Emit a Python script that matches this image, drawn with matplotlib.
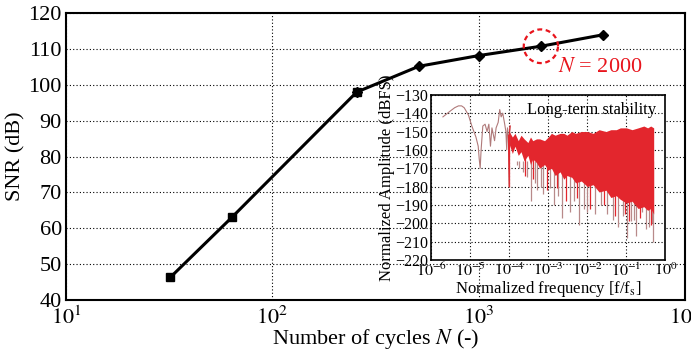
import numpy as np
import matplotlib
matplotlib.use("Agg")
import matplotlib.pyplot as plt

plt.rcParams["font.family"] = ["Liberation Serif", "DejaVu Serif"]
plt.rcParams["mathtext.fontset"] = "stix"

# ── main curve: SNR vs number of cycles ──────────────────────────────────────
n_sq    = [32, 64, 256]
snr_sq  = [46.3, 63.2, 98.0]
n_dm    = [256, 512, 1000, 2000, 4000]
snr_dm  = [98.0, 105.2, 108.2, 110.8, 114.0]
hl_n    = 2000
hl_snr  = 110.8

# ── inset: spectrum ──────────────────────────────────────────────────────────
lf_f  = [2e-6, 3e-6, 4e-6, 5e-6, 6e-6, 7e-6, 9e-6, 1.1e-5, 1.4e-5, 1.6e-5, 1.7e-5,
         1.8e-5, 1.9e-5, 2.1e-5, 2.4e-5, 2.7e-5, 3.0e-5, 3.3e-5, 3.6e-5, 4.2e-5,
         4.6e-5, 5.2e-5, 5.7e-5, 6.2e-5, 6.8e-5, 7.5e-5, 8.2e-5, 8.6e-5, 9e-5,
         9.5e-5, 1.0e-4, 1.02e-4, 1.05e-4]
lf_db = [-142, -139, -137, -136, -136, -137, -141, -147, -153, -158, -165,
         -170, -160, -147, -146, -150, -146, -158, -148, -155,
         -148, -145, -138, -142, -140, -145, -150, -160, -148,
         -152, -180, -150, -147]

env_f  = [1.0e-4, 1.2e-4, 1.4e-4, 1.7e-4, 2.0e-4, 2.4e-4, 3e-4, 3.5e-4, 4e-4, 5e-4,
          6e-4, 8e-4, 1e-3, 1.2e-3, 1.5e-3, 2e-3, 2.5e-3, 3e-3, 4e-3, 5e-3, 7e-3,
          1e-2, 1.4e-2, 2e-2, 3e-2, 4e-2, 5.5e-2, 7e-2, 1e-1, 1.4e-1, 2e-1,
          2.8e-1, 3.5e-1, 4.2e-1, 5e-1]
env_hi = [-150, -153, -151, -155, -152, -154, -156, -153, -155, -154,
          -154, -155, -153, -151, -152, -151, -151, -152, -150, -151, -150,
          -150, -151, -149, -150, -149, -149, -148, -148, -149, -148,
          -147, -148, -147, -148]
env_lo = [-157, -162, -158, -163, -161, -166, -163, -168, -165, -167,
          -170, -168, -171, -170, -174, -172, -176, -174, -175, -178, -177,
          -180, -179, -183, -182, -186, -185, -187, -189, -188, -192,
          -191, -193, -192, -195]

spk_f  = [1.6e-4, 1.8e-4, 2.3e-4, 2.8e-4, 3.6e-4, 4.5e-4, 5e-4, 6.5e-4, 7.5e-4,
          1.1e-3, 1.4e-3, 1.8e-3, 2.3e-3, 3.5e-3, 4.5e-3, 6e-3, 8e-3, 1e-2,
          1.6e-2, 2.2e-2, 3.2e-2, 4.5e-2, 6e-2, 8e-2, 1.05e-1, 1.3e-1, 1.6e-1,
          1.75e-1, 2.5e-1, 3.2e-1, 3.7e-1, 4.5e-1, 4.8e-1]
spk_db = [-168, -170, -172, -175, -188, -178, -182, -180, -184,
          -181, -190, -185, -197, -194, -188, -201, -192, -194,
          -195, -190, -195, -198, -202, -196, -208, -199, -198,
          -207, -194, -203, -202, -200, -210]
rspk_f  = [1.0e-4, 2.6e-4, 4e-4, 9e-4, 1.7e-3, 2.9e-3, 5.5e-3, 1.2e-2, 2.6e-2,
           5e-2, 9e-2, 1.2e-1, 2.2e-1, 4.2e-1]
rspk_db = [-180, -174, -176, -182, -181, -188, -186, -192, -190,
           -196, -195, -199, -197, -201]

fig = plt.figure(figsize=(6.91, 3.54), dpi=100)
ax = fig.add_axes([0.0955, 0.1525, 0.896, 0.81])

ax.plot(n_dm, snr_dm, "-", color="black", lw=2.2, marker="D", ms=5, zorder=3)
ax.plot(n_sq, snr_sq, "-", color="black", lw=2.2, marker="s", ms=5.5, zorder=4)

# dashed circle round the highlighted point (log-x so drawn in decades)
t = np.linspace(0, 2 * np.pi, 200)
cx = np.log10(hl_n)
ax.plot(10 ** (cx + 0.083 * np.cos(t)), hl_snr + 4.7 * np.sin(t),
        color="#e8141c", lw=1.6, ls=(0, (2.2, 1.6)), zorder=5)
ax.text(10 ** (cx + 0.085), hl_snr - 5.8, r"$\mathit{N}$ = 2000", color="#e8141c",
        fontsize=16, ha="left", va="center")

ax.set_xscale("log")
ax.set_xlim(10, 1e4)
ax.set_ylim(40, 120)
ax.set_yticks(range(40, 121, 10))
ax.set_xticks([10, 100, 1000, 10000])
ax.set_xticklabels([r"$10^{1}$", r"$10^{2}$", r"$10^{3}$", r"$10^{4}$"])
ax.minorticks_off()
ax.tick_params(direction="in", length=0, labelsize=16, pad=3)
ax.tick_params(axis="x", pad=5)
ax.grid(True, color="black", ls=(0, (1, 2)), lw=0.8)
for s in ax.spines.values():
    s.set_linewidth(1.5)
ax.set_xlabel(r"Number of cycles $\mathit{N}$ (-)", fontsize=16, labelpad=-2)
ax.set_ylabel("SNR (dB)", fontsize=16, labelpad=2)

# ── inset ────────────────────────────────────────────────────────────────────
ins = fig.add_axes([0.624, 0.266, 0.339, 0.466])
ins.vlines(spk_f, -166, spk_db, color="#b88a8a", lw=0.9, zorder=2)
ins.fill_between(env_f, env_lo, env_hi, color="#e3262d", lw=0, zorder=3)
ins.vlines(rspk_f, -160, rspk_db, color="#e3262d", lw=0.9, zorder=3)
ins.plot(lf_f, lf_db, color="#b07a7a", lw=0.8, zorder=4)
ins.plot(lf_f[-4:], lf_db[-4:], color="#e3262d", lw=0.8, zorder=4)

ins.set_xscale("log")
ins.set_xlim(1e-6, 1)
ins.set_ylim(-220, -130)
ins.set_yticks(range(-220, -129, 10))
ins.set_xticks([1e-6, 1e-5, 1e-4, 1e-3, 1e-2, 1e-1, 1])
ins.set_xticklabels([r"$10^{-6}$", r"$10^{-5}$", r"$10^{-4}$", r"$10^{-3}$",
                     r"$10^{-2}$", r"$10^{-1}$", r"$10^{0}$"])
ins.minorticks_off()
ins.tick_params(direction="in", length=0, labelsize=11.5, pad=2)
ins.grid(True, color="black", ls=(0, (1, 2)), lw=0.8)
for s in ins.spines.values():
    s.set_linewidth(1.2)
ins.set_xlabel(r"Normalized frequency [f/f$_\mathrm{s}$]", fontsize=12, labelpad=-1)
ins.set_ylabel("Normalized Amplitude (dBFS)", fontsize=12, labelpad=0)
ins.text(0.96, 0.91, "Long-term stability", transform=ins.transAxes,
         ha="right", va="center", fontsize=12)

fig.savefig("out.png", dpi=100)
